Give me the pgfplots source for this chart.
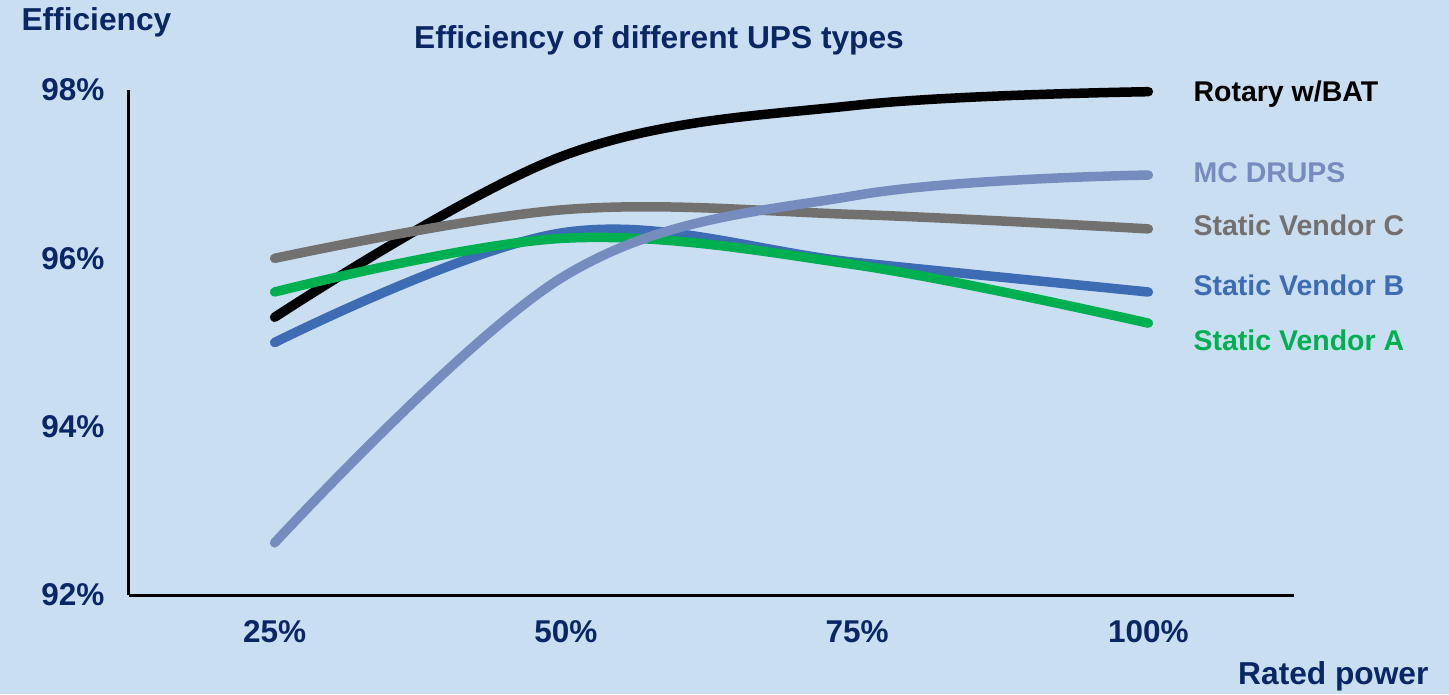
\documentclass[border=0pt]{standalone}
\usepackage{pgfplots}
\pgfplotsset{compat=1.18}
\usepackage{fontspec}
\setmainfont{Liberation Sans}
\definecolor{bg}{RGB}{201,222,241}
\definecolor{navy}{RGB}{10,38,100}
\definecolor{mcd}{RGB}{118,140,190}
\definecolor{gry}{RGB}{115,112,112}
\definecolor{vb}{RGB}{61,108,180}
\definecolor{va}{RGB}{0,176,80}
\begin{document}
\begin{tikzpicture}[x=1pt,y=1pt]
\fill[bg] (0,0) rectangle (1449,-694);
\path[use as bounding box] (0,0) rectangle (1449,-694);
\begin{axis}[
  at={(129pt,-595pt)}, anchor=south west,
  scale only axis, width=1165pt, height=505pt,
  xmin=12.5, xmax=112.5, ymin=92, ymax=98,
  axis lines*=left,
  axis line style={line width=3pt, black, -},
  xtick={25,50,75,100}, xticklabels={25\%,50\%,75\%,100\%},
  ytick={92,94,96,98}, yticklabels={92\%,94\%,96\%,98\%},
  major tick length=0pt,
  tick label style={font=\fontsize{31.5}{36}\selectfont\bfseries, text=navy},
  xticklabel style={yshift=-22pt},
  yticklabel style={xshift=-21pt},
  clip=false,
  every axis plot/.append style={line width=9.5pt, line cap=round, smooth, tension=0.6, no markers},
]
\addplot[black] coordinates {(25,95.30) (50,97.23) (75,97.82) (100,97.98)};
\addplot[gry] coordinates {(25,96.00) (50,96.58) (75,96.52) (100,96.35)};
\addplot[vb] coordinates {(25,95.00) (50,96.31) (75,95.95) (100,95.60)};
\addplot[va] coordinates {(25,95.60) (50,96.24) (75,95.92) (100,95.23)};
\addplot[mcd] coordinates {(25,92.62) (50,95.80) (75,96.75) (100,96.99)};
\end{axis}
\node[anchor=west, font=\fontsize{31.7}{36}\selectfont\bfseries, text=navy] at (18,-22) {Efficiency};
\node[font=\fontsize{31.7}{36}\selectfont\bfseries, text=navy] at (659,-40) {Efficiency of different UPS types};
\node[anchor=east, font=\fontsize{31.7}{36}\selectfont\bfseries, text=navy] at (1432,-676) {Rated power};
\begin{scope}[every node/.style={anchor=west, font=\fontsize{28.5}{33}\selectfont\bfseries}]
\node[text=black] at (1190,-94) {Rotary w/BAT};
\node[text=mcd] at (1190,-173) {MC DRUPS};
\node[text=gry] at (1190,-225) {Static Vendor C};
\node[text=vb] at (1190,-285) {Static Vendor B};
\node[text=va] at (1190,-340) {Static Vendor A};
\end{scope}
\end{tikzpicture}
\end{document}
